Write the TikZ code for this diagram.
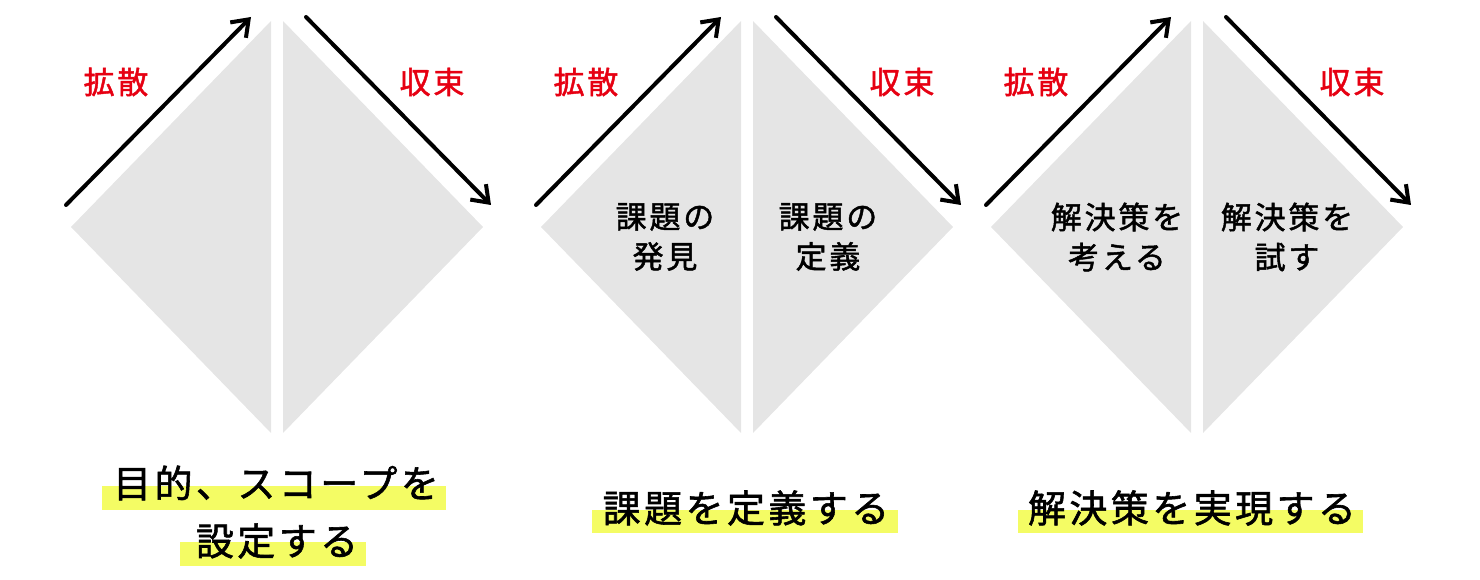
\documentclass[tikz,border=0pt]{standalone}
\usepackage{fontspec}
\usepackage{tikz}
\usetikzlibrary{arrows.meta}
\newfontfamily\jpfont{Noto Sans CJK JP}[LetterSpace=9,FakeBold=1.5]
\definecolor{PhaseGray}{HTML}{E5E5E5}
\definecolor{FlowRed}{HTML}{E60012}
\definecolor{MarkYellow}{HTML}{F4FC64}

\begin{document}
\begin{tikzpicture}[
      x=1pt,
      y=-1pt,
      >={Straight Barb[length=15pt,width=22pt]},
      half/.style={fill=PhaseGray},
      flow/.style={->,line width=4pt,line cap=round},
      flowlabel/.style={text=FlowRed,font=\jpfont\fontsize{31}{34}\selectfont},
      phase/.style={align=center,font=\jpfont\fontsize{31}{40}\selectfont},
      goal/.style={font=\jpfont\fontsize{38}{40}\selectfont},
      marker/.style={fill=MarkYellow}
    ]
      \useasboundingbox (0,0) rectangle (1480,580);
      % diamonds
      \fill[half] (71,227) -- (271,21) -- (271,433) -- cycle;
      \fill[half] (283,21) -- (483,227) -- (283,433) -- cycle;
      \fill[half] (541,227) -- (741,21) -- (741,433) -- cycle;
      \fill[half] (753,21) -- (953,227) -- (753,433) -- cycle;
      \fill[half] (991,227) -- (1191,21) -- (1191,433) -- cycle;
      \fill[half] (1203,21) -- (1403,227) -- (1203,433) -- cycle;
      % arrow ends
      \coordinate (d1s) at (66,205);   \coordinate (d1t) at (251,17);
      \coordinate (c1s) at (306,17);   \coordinate (c1t) at (491,205);
      \coordinate (d2s) at (536,205);  \coordinate (d2t) at (721,17);
      \coordinate (c2s) at (776,17);   \coordinate (c2t) at (961,205);
      \coordinate (d3s) at (986,205);  \coordinate (d3t) at (1171,17);
      \coordinate (c3s) at (1226,17);  \coordinate (c3t) at (1411,205);
      \draw[flow] (d1s) -- (d1t);
      \draw[flow] (c1s) -- (c1t);
      \draw[flow] (d2s) -- (d2t);
      \draw[flow] (c2s) -- (c2t);
      \draw[flow] (d3s) -- (d3t);
      \draw[flow] (c3s) -- (c3t);
      \node[flowlabel] (div1) at (116,82) {拡散};
      \node[flowlabel] (con1) at (432,82) {収束};
      \node[flowlabel] (div2) at (586,82) {拡散};
      \node[flowlabel] (con2) at (902,82) {収束};
      \node[flowlabel] (div3) at (1036,82) {拡散};
      \node[flowlabel] (con3) at (1352,82) {収束};
      % phases
      \node[phase] (find) at (665,237) {課題の\\発見};
      \node[phase] (define) at (828,237) {課題の\\定義};
      \node[phase] (think) at (1117,237) {解決策を\\考える};
      \node[phase] (try) at (1287,237) {解決策を\\試す};
      % goals
      \fill[marker] (102,486) rectangle (446,510);
      \fill[marker] (180,542) rectangle (366,566);
      \fill[marker] (592,510) rectangle (898,533);
      \fill[marker] (1018,510) rectangle (1363,533);
      \node[goal] (scope) at (276,483) {目的、スコープを};
      \node[goal] (scopeb) at (277,541) {設定する};
      \node[goal] (problem) at (746,508) {課題を定義する};
      \node[goal] (solution) at (1192,508) {解決策を実現する};
    \end{tikzpicture}
\end{document}
